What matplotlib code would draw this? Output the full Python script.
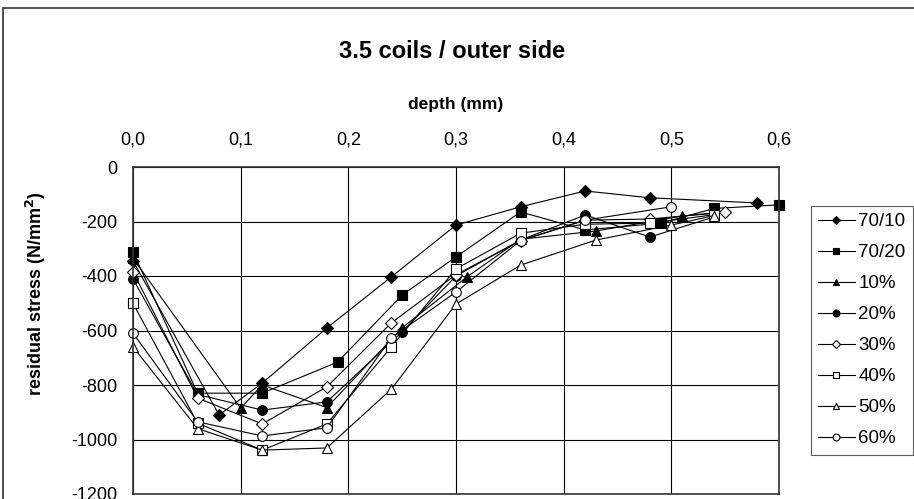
import matplotlib
matplotlib.use("Agg")
import matplotlib.pyplot as plt
from matplotlib.patches import Rectangle
from matplotlib.ticker import FuncFormatter

plt.rcParams['font.family'] = ['Liberation Sans', 'DejaVu Sans']
plt.rcParams['axes.unicode_minus'] = False

# depth (mm) / residual stress (N/mm2) per series
labels = ["70/10", "70/20", "10%", "20%", "30%", "40%", "50%", "60%"]
depth = [
    [0, 0.08, 0.12, 0.18, 0.24, 0.30, 0.36, 0.42, 0.48, 0.58],
    [0, 0.06, 0.12, 0.19, 0.25, 0.30, 0.36, 0.42, 0.49, 0.54, 0.60],
    [0, 0.10, 0.12, 0.18, 0.25, 0.31, 0.36, 0.43, 0.51, 0.54],
    [0, 0.06, 0.12, 0.18, 0.25, 0.30, 0.36, 0.42, 0.48, 0.54],
    [0, 0.06, 0.12, 0.18, 0.24, 0.30, 0.36, 0.42, 0.48, 0.55],
    [0, 0.06, 0.12, 0.18, 0.24, 0.30, 0.36, 0.42, 0.48, 0.54],
    [0, 0.06, 0.12, 0.18, 0.24, 0.30, 0.36, 0.43, 0.50, 0.54],
    [0, 0.06, 0.12, 0.18, 0.24, 0.30, 0.36, 0.42, 0.50],
]
stress = [
    [-345, -910, -793, -591, -403, -213, -146, -88, -113, -132],
    [-312, -830, -830, -716, -470, -330, -165, -231, -206, -152, -139],
    [-335, -885, -800, -883, -590, -404, -265, -235, -180, -170],
    [-411, -835, -892, -862, -605, -400, -268, -176, -257, -183],
    [-385, -848, -943, -807, -572, -395, -270, -195, -191, -165],
    [-500, -940, -1039, -943, -660, -374, -243, -210, -206, -175],
    [-660, -960, -1039, -1031, -815, -503, -360, -268, -213, -178],
    [-610, -935, -987, -957, -627, -459, -270, -195, -146],
]
markers = ["D", "s", "^", "o", "D", "s", "^", "o"]
filled = [True, True, True, True, False, False, False, False]
msizes = [6, 7, 7, 7, 6, 7, 7, 7]

fig = plt.figure(figsize=(9.14, 4.99), dpi=100)
# chart border (cropped at right and bottom)
fig.patches.append(Rectangle((3 / 914, -0.05), 1.0, 1 - 8 / 499 + 0.05,
                             transform=fig.transFigure, fill=False,
                             edgecolor="#333333", linewidth=1.2))

ax = fig.add_axes([133 / 914, 1 - 494 / 499, (779 - 133) / 914, (494 - 167) / 499])

for lab, xs, ys, m, f, ms in zip(labels, depth, stress, markers, filled, msizes):
    ax.plot(xs, ys, color="black", linewidth=0.8, marker=m, markersize=ms,
            markerfacecolor="black" if f else "white", markeredgecolor="black",
            markeredgewidth=0.8, label=lab, clip_on=False)

ax.set_xlim(0, 0.6)
ax.set_ylim(-1200, 0)
ax.set_xticks([0, 0.1, 0.2, 0.3, 0.4, 0.5, 0.6])
ax.set_yticks(range(-1200, 1, 200))
ax.xaxis.set_major_formatter(FuncFormatter(lambda v, p: f"{v:.1f}".replace(".", ",")))
ax.xaxis.tick_top()
ax.tick_params(axis="both", length=0, labelsize=13)
ax.tick_params(axis="x", pad=13)
ax.tick_params(axis="y", pad=11)
ax.grid(True, color="black", linewidth=0.8)
ax.set_axisbelow(True)
for s in ax.spines.values():
    s.set_color("#333333")
    s.set_linewidth(1.2)

fig.text(456 / 914, 1 - 105 / 499, "depth (mm)", ha="center", va="center",
         fontsize=12.5, fontweight="bold")
fig.text(36 / 914, 1 - 294 / 499, "residual stress (N/mm$^\\mathbf{2}$)", ha="center",
         va="center", rotation=90, fontsize=13, fontweight="bold")
fig.text(452 / 914, 1 - 52 / 499, "3.5 coils / outer side", ha="center", va="center",
         fontsize=17, fontweight="bold")

leg = fig.legend(loc="upper left", bbox_to_anchor=(811 / 914, 1 - 206 / 499),
                 frameon=True, fancybox=False, fontsize=13.5, handlelength=1.93,
                 labelspacing=0.74, borderpad=0.39, handletextpad=0.21,
                 borderaxespad=0, markerscale=0.7)
leg.get_frame().set_edgecolor("#333333")
leg.get_frame().set_linewidth(0.8)

fig.savefig("out.png", dpi=100)
